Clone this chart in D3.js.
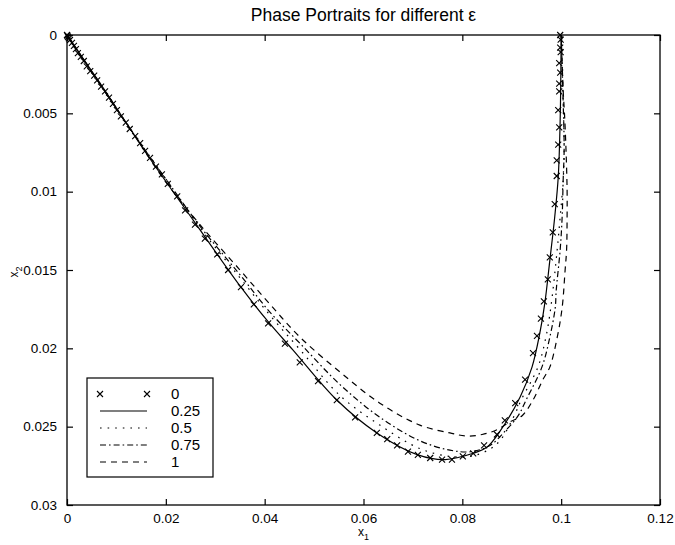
<!DOCTYPE html>
<html>
<head>
<meta charset="utf-8">
<script src="https://cdn.jsdelivr.net/npm/d3@7"></script>
<style>
  body { margin: 0; background: #fff; }
  svg { display: block; font-family: "Liberation Sans", Arial, sans-serif; }
</style>
</head>
<body>
<svg id="chart" width="675" height="545"></svg>
<script>
// Tick values and labels
var xTicks = [0, 0.02, 0.04, 0.06, 0.08, 0.1, 0.12];
var xTickLabels = ["0", "0.02", "0.04", "0.06", "0.08", "0.1", "0.12"];
var yTicks = [0, 0.005, 0.01, 0.015, 0.02, 0.025, 0.03];
var yTickLabels = ["0", "0.005", "0.01", "0.015", "0.02", "0.025", "0.03"];

// Legend entries (epsilon values)
var epsLabels = ["0", "0.25", "0.5", "0.75", "1"];

// eps = 0 : cross markers [x1, x2]
var eps0 = [
  [0, 0], [0.0001, 0.00006], [0.0002, 0.00013], [0.0004, 0.00022], [0.0006, 0.00032],
  [0.0010, 0.0005], [0.0014, 0.0007], [0.0018, 0.0009], [0.0022, 0.00115], [0.0028, 0.0014],
  [0.0034, 0.00166], [0.0040, 0.0020], [0.0047, 0.0023], [0.0055, 0.0026], [0.0061, 0.0029],
  [0.0069, 0.0033], [0.0077, 0.0036], [0.0085, 0.0040], [0.0093, 0.0044], [0.0101, 0.0048],
  [0.0109, 0.0052], [0.0119, 0.0056], [0.0127, 0.0060], [0.0138, 0.00645], [0.0148, 0.0069],
  [0.0158, 0.0074], [0.0168, 0.00785], [0.0180, 0.0084], [0.0192, 0.0089], [0.0204, 0.0095],
  [0.0223, 0.0103], [0.0239, 0.0112], [0.0259, 0.0121], [0.0279, 0.0130], [0.0304, 0.0140],
  [0.0326, 0.0150], [0.0352, 0.0161], [0.0378, 0.0172], [0.0407, 0.0184], [0.0441, 0.0197],
  [0.0471, 0.0209], [0.0508, 0.0221], [0.0546, 0.0233], [0.0583, 0.0244], [0.0627, 0.0254],
  [0.0648, 0.0258], [0.0668, 0.0262], [0.0690, 0.0266], [0.0710, 0.0268], [0.0735, 0.0270],
  [0.0759, 0.0271], [0.0779, 0.0271], [0.0801, 0.0269], [0.0822, 0.0267], [0.0844, 0.0262],
  [0.0870, 0.0255], [0.0886, 0.0246], [0.0907, 0.0235], [0.0927, 0.0220], [0.0943, 0.0203],
  [0.0951, 0.0192], [0.0959, 0.0181], [0.0965, 0.0170], [0.0973, 0.0156], [0.0977, 0.0142],
  [0.0983, 0.0126], [0.0987, 0.0108], [0.0991, 0.0090], [0.0991, 0.0080], [0.0994, 0.0070],
  [0.0996, 0.0059], [0.0994, 0.0048], [0.0996, 0.0036], [0.0996, 0.0031], [0.0998, 0.0024],
  [0.0996, 0.0018], [0.0999, 0.0011], [0.0998, 0.0008], [0.0999, 0.0003], [0.0998, 0.0]
];

// eps = 0.25 : solid
var eps025 = [
  [0, 0], [0.0063, 0.0029], [0.0128, 0.0060], [0.0168, 0.0079], [0.0255, 0.0118],
  [0.0352, 0.0161], [0.0407, 0.0183], [0.0457, 0.0201], [0.0546, 0.0233], [0.0627, 0.0254],
  [0.0710, 0.0268], [0.0765, 0.0271], [0.0822, 0.0267], [0.0850, 0.0263], [0.0876, 0.0253],
  [0.0917, 0.0231], [0.0941, 0.0212], [0.0957, 0.0190], [0.0967, 0.0171], [0.0977, 0.0144],
  [0.0987, 0.0116], [0.0994, 0.0091], [0.0998, 0.0054], [0.1000, 0]
];

// eps = 0.5 : dotted
var eps05 = [
  [0, 0], [0.0128, 0.0060], [0.0198, 0.0091], [0.0269, 0.0123], [0.0350, 0.0155],
  [0.0411, 0.0179], [0.0472, 0.0201], [0.0552, 0.0230], [0.0633, 0.0249], [0.0714, 0.0264],
  [0.0775, 0.0269], [0.0816, 0.0269], [0.0852, 0.0265], [0.0876, 0.0259], [0.0905, 0.0243],
  [0.0919, 0.0233], [0.0953, 0.0212], [0.0969, 0.0193], [0.0979, 0.0174], [0.0992, 0.0137],
  [0.0998, 0.0116], [0.1004, 0.0093], [0.1006, 0.0073], [0.1004, 0.0042], [0.1000, 0]
];

// eps = 0.75 : dash-dot
var eps075 = [
  [0, 0], [0.0128, 0.0060], [0.0198, 0.0091], [0.0269, 0.0122], [0.0350, 0.0153],
  [0.0411, 0.0177], [0.0472, 0.0197], [0.0552, 0.0223], [0.0633, 0.0244], [0.0714, 0.0259],
  [0.0775, 0.0265], [0.0816, 0.0266], [0.0856, 0.0262], [0.0886, 0.0253], [0.0913, 0.0243],
  [0.0929, 0.0233], [0.0961, 0.0212], [0.0977, 0.0193], [0.0988, 0.0174], [0.0990, 0.0163],
  [0.0998, 0.0137], [0.1002, 0.0116], [0.1004, 0.0093], [0.1006, 0.0073], [0.1004, 0.0042],
  [0.1000, 0]
];

// eps = 1 : dashed
var eps1 = [
  [0, 0], [0.0128, 0.0060], [0.0198, 0.0093], [0.0269, 0.0121], [0.0350, 0.0150],
  [0.0411, 0.0172], [0.0472, 0.0193], [0.0552, 0.0215], [0.0633, 0.0235], [0.0714, 0.0249],
  [0.0775, 0.0254], [0.0809, 0.0256], [0.0840, 0.0255], [0.0870, 0.0252], [0.0896, 0.0247],
  [0.0921, 0.0243], [0.0943, 0.0233], [0.0963, 0.0220], [0.0977, 0.0212], [0.0992, 0.0193],
  [0.1002, 0.0174], [0.1008, 0.0150], [0.1011, 0.0137], [0.1012, 0.0116], [0.1012, 0.0099],
  [0.1010, 0.0075], [0.1007, 0.0052], [0.1004, 0.0035], [0.1000, 0]
];

var chart = {};

chart.draw = () => {
  let svg = d3.select("#chart");
  let margin = {left: 67, right: 15, top: 35, bottom: 40};
  let W = 675, H = 545;

  let x = d3.scaleLinear().domain([0, 0.12]).range([margin.left, W - margin.right]);
  let y = d3.scaleLinear().domain([0, 0.03]).range([margin.top, H - margin.bottom]);

  // Title
  svg.append("text")
    .attr("x", (x.range()[0] + x.range()[1]) / 2)
    .attr("y", 21)
    .attr("text-anchor", "middle")
    .style("font-size", "17.5px")
    .text("Phase Portraits for different \u03b5");

  // Axes (inward ticks on all sides)
  let fontSize = "13.5px";
  let gB = svg.append("g")
    .attr("transform", "translate(0," + y.range()[1] + ")")
    .call(d3.axisBottom(x).tickValues(xTicks).tickSize(-6).tickPadding(8)
      .tickFormat((d, i) => xTickLabels[i]));
  let gT = svg.append("g")
    .attr("transform", "translate(0," + y.range()[0] + ")")
    .call(d3.axisTop(x).tickValues(xTicks).tickSize(-6).tickFormat(""));
  let gL = svg.append("g")
    .attr("transform", "translate(" + x.range()[0] + ",0)")
    .call(d3.axisLeft(y).tickValues(yTicks).tickSize(-6).tickPadding(10)
      .tickFormat((d, i) => yTickLabels[i]));
  let gR = svg.append("g")
    .attr("transform", "translate(" + x.range()[1] + ",0)")
    .call(d3.axisRight(y).tickValues(yTicks).tickSize(-6).tickFormat(""));

  [gB, gT, gL, gR].forEach((g) => {
    g.select(".domain").remove();
    g.selectAll(".tick line").attr("stroke", "#000").attr("stroke-width", 1.2);
    g.selectAll(".tick text")
      .attr("fill", "#000")
      .style("font-size", fontSize)
      .style("font-family", "'Liberation Sans', Arial, sans-serif");
  });

  // Frame
  svg.append("rect")
    .attr("x", x.range()[0]).attr("y", y.range()[0])
    .attr("width", x.range()[1] - x.range()[0])
    .attr("height", y.range()[1] - y.range()[0])
    .attr("fill", "none").attr("stroke", "#000").attr("stroke-width", 1.3);

  // Axis titles
  let xl = svg.append("text")
    .attr("x", (x.range()[0] + x.range()[1]) / 2)
    .attr("y", 536)
    .attr("text-anchor", "middle")
    .style("font-size", "12px");
  xl.append("tspan").text("x");
  xl.append("tspan").attr("dy", 4).style("font-size", "9px").text("1");

  let yl = svg.append("text")
    .attr("transform", "translate(18,272) rotate(-90)")
    .attr("text-anchor", "middle")
    .style("font-size", "12px");
  yl.append("tspan").text("x");
  yl.append("tspan").attr("dy", 4).style("font-size", "9px").text("2");

  // Curves
  let line = d3.line()
    .x((d) => x(d[0]))
    .y((d) => y(d[1]))
    .curve(d3.curveCatmullRom.alpha(0.5));

  let series = [
    {data: eps025, dash: null},
    {data: eps05, dash: "1.6,6"},
    {data: eps075, dash: "6,3,1.6,3"},
    {data: eps1, dash: "6,5"}
  ];

  series.forEach((s) => {
    svg.append("path")
      .datum(s.data)
      .attr("d", line)
      .attr("fill", "none")
      .attr("stroke", "#000")
      .attr("stroke-width", 1.2)
      .attr("stroke-dasharray", s.dash);
  });

  // Cross markers for eps = 0
  let cross = (cx, cy, r) => "M" + (cx - r) + "," + (cy - r) + "L" + (cx + r) + "," + (cy + r) +
    "M" + (cx - r) + "," + (cy + r) + "L" + (cx + r) + "," + (cy - r);

  svg.append("g").selectAll("path")
    .data(eps0)
    .enter()
    .append("path")
    .attr("d", (d) => cross(x(d[0]), y(d[1]), 3))
    .attr("stroke", "#000")
    .attr("stroke-width", 1.1);

  // Legend
  let lg = svg.append("g");
  lg.append("rect")
    .attr("x", 87).attr("y", 378).attr("width", 126).attr("height", 99)
    .attr("fill", "#fff").attr("stroke", "#000").attr("stroke-width", 1.2);

  let rowY = (i) => 394 + i * 17;
  let lx0 = 100, lx1 = 147;

  epsLabels.forEach((lab, i) => {
    lg.append("text")
      .attr("x", 171).attr("y", rowY(i) + 5)
      .style("font-size", "15px")
      .text(lab);
  });

  // row 0: two crosses
  [lx0, lx1].forEach((px) => {
    lg.append("path").attr("d", cross(px, rowY(0), 3))
      .attr("stroke", "#000").attr("stroke-width", 1.1);
  });
  // other rows: line samples
  series.forEach((s, i) => {
    lg.append("line")
      .attr("x1", lx0).attr("x2", lx1)
      .attr("y1", rowY(i + 1)).attr("y2", rowY(i + 1))
      .attr("stroke", "#000").attr("stroke-width", 1.2)
      .attr("stroke-dasharray", s.dash);
  });
}

chart.draw();
</script>
</body>
</html>
